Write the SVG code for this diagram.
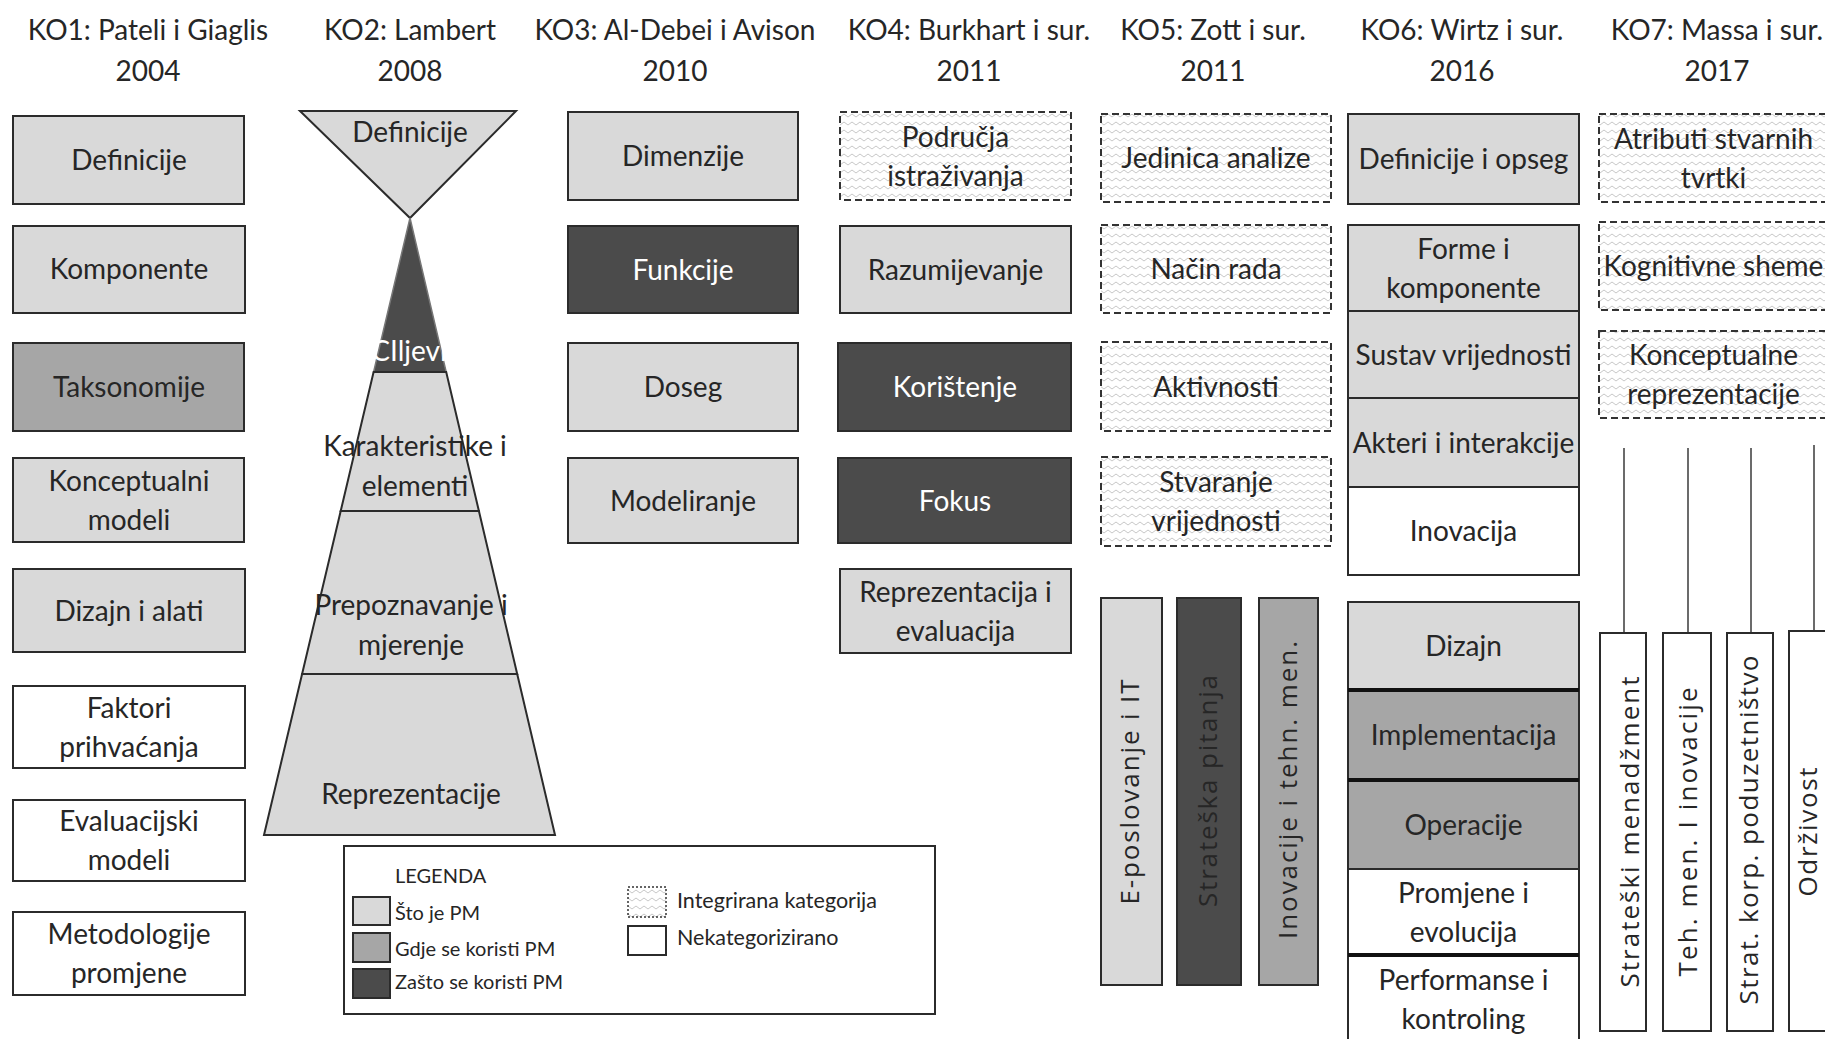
<svg xmlns="http://www.w3.org/2000/svg" width="1825" height="1039" viewBox="0 0 1825 1039">
<style>
.t{font-family:Lato,"Liberation Sans",sans-serif;font-size:28px;fill:#262626;text-anchor:middle}
.w{fill:#ffffff}
.v{font-family:"Open Sans","Liberation Sans",sans-serif;font-size:26px;fill:#262626;text-anchor:middle}
.lg{font-family:Lato,"Liberation Sans",sans-serif;font-size:20px;fill:#262626;text-anchor:start}
.lg2{font-size:21.5px}
.b{stroke:#2b2b2b;stroke-width:2}
.lt{fill:#d9d9d9}
.md{fill:#a6a6a6}
.dk{fill:#4b4b4b}
.wh{fill:#ffffff}
.ig{fill:url(#zz);stroke:#333333;stroke-width:2;stroke-dasharray:7 4}
.thick{stroke:#111111;stroke-width:4}
.conn{stroke:#6b6b6b;stroke-width:2;fill:none}
</style>
<defs>
<pattern id="zz" width="8" height="8" patternUnits="userSpaceOnUse">
<rect width="8" height="8" fill="#ffffff"/>
<polyline points="0,5 4,2 8,5" fill="none" stroke="#c8c8c8" stroke-width="1"/>
</pattern>
</defs>
<rect width="1825" height="1039" fill="#ffffff"/>

<!-- Titles -->
<g id="titles">
<text class="t" x="148" y="40">KO1: Pateli i Giaglis</text><text class="t" x="148" y="81">2004</text>
<text class="t" x="410" y="40">KO2: Lambert</text><text class="t" x="410" y="81">2008</text>
<text class="t" x="675" y="40">KO3: Al-Debei i Avison</text><text class="t" x="675" y="81">2010</text>
<text class="t" x="969" y="40">KO4: Burkhart i sur.</text><text class="t" x="969" y="81">2011</text>
<text class="t" x="1213" y="40">KO5: Zott i sur.</text><text class="t" x="1213" y="81">2011</text>
<text class="t" x="1462" y="40">KO6: Wirtz i sur.</text><text class="t" x="1462" y="81">2016</text>
<text class="t" x="1717" y="40">KO7: Massa i sur.</text><text class="t" x="1717" y="81">2017</text>
</g>

<!-- KO1 -->
<g id="ko1-definicije"><rect class="b lt" x="13" y="116" width="231" height="88"/><text class="t" x="129" y="170">Definicije</text></g>
<g id="ko1-komponente"><rect class="b lt" x="13" y="226" width="232" height="87"/><text class="t" x="129" y="279">Komponente</text></g>
<g id="ko1-taksonomije"><rect class="b md" x="13" y="343" width="231" height="88"/><text class="t" x="129" y="397">Taksonomije</text></g>
<g id="ko1-konceptualni"><rect class="b lt" x="13" y="458" width="231" height="84"/><text class="t" x="129" y="490.5">Konceptualni</text><text class="t" x="129" y="529.5">modeli</text></g>
<g id="ko1-dizajn"><rect class="b lt" x="13" y="569" width="232" height="83"/><text class="t" x="129" y="621">Dizajn i alati</text></g>
<g id="ko1-faktori"><rect class="b wh" x="13" y="686" width="232" height="82"/><text class="t" x="129" y="717.5">Faktori</text><text class="t" x="129" y="756.5">prihvaćanja</text></g>
<g id="ko1-evaluacijski"><rect class="b wh" x="13" y="800" width="232" height="81"/><text class="t" x="129" y="831">Evaluacijski</text><text class="t" x="129" y="870">modeli</text></g>
<g id="ko1-metodologije"><rect class="b wh" x="13" y="912" width="232" height="83"/><text class="t" x="129" y="944">Metodologije</text><text class="t" x="129" y="983">promjene</text></g>

<!-- KO2 pyramid -->
<g id="ko2-definicije"><polygon class="b lt" stroke-width="1.5" points="300,111 516,111 410,218"/><text class="t" x="410" y="142">Definicije</text></g>
<g id="ko2-ciljevi"><polygon class="dk" stroke="#777" stroke-width="1.5" points="410,218 373.6,372 446.2,372"/><text class="t w" x="409" y="361">CIljevi</text></g>
<g id="ko2-karakteristike"><polygon class="b lt" stroke-width="1.5" points="373.6,372 446.2,372 478.9,511 340.7,511"/><text class="t" x="415" y="456">Karakteristike i</text><text class="t" x="415" y="496">elementi</text></g>
<g id="ko2-prepoznavanje"><polygon class="b lt" stroke-width="1.5" points="340.7,511 478.9,511 517.2,674 302.1,674"/><text class="t" x="411" y="615">Prepoznavanje i</text><text class="t" x="411" y="655">mjerenje</text></g>
<g id="ko2-reprezentacije"><polygon class="b lt" stroke-width="1.5" points="302.1,674 517.2,674 555,835 264,835"/><text class="t" x="411" y="804">Reprezentacije</text></g>

<!-- KO3 -->
<g id="ko3-dimenzije"><rect class="b lt" x="568" y="112" width="230" height="88"/><text class="t" x="683" y="166">Dimenzije</text></g>
<g id="ko3-funkcije"><rect class="b dk" x="568" y="226" width="230" height="87"/><text class="t w" x="683" y="279.5">Funkcije</text></g>
<g id="ko3-doseg"><rect class="b lt" x="568" y="343" width="230" height="88"/><text class="t" x="683" y="397">Doseg</text></g>
<g id="ko3-modeliranje"><rect class="b lt" x="568" y="458" width="230" height="85"/><text class="t" x="683" y="510.5">Modeliranje</text></g>

<!-- KO4 -->
<g id="ko4-podrucja"><rect class="ig" x="840" y="112" width="231" height="88"/><text class="t" x="955.5" y="146.5">Područja</text><text class="t" x="955.5" y="185.5">istraživanja</text></g>
<g id="ko4-razumijevanje"><rect class="b lt" x="840" y="226" width="231" height="87"/><text class="t" x="955.5" y="279.5">Razumijevanje</text></g>
<g id="ko4-koristenje"><rect class="b dk" x="838" y="343" width="233" height="88"/><text class="t w" x="955" y="397">Korištenje</text></g>
<g id="ko4-fokus"><rect class="b dk" x="838" y="458" width="233" height="85"/><text class="t w" x="955" y="510.5">Fokus</text></g>
<g id="ko4-reprezentacija"><rect class="b lt" x="840" y="569" width="231" height="84"/><text class="t" x="955.5" y="601.5">Reprezentacija i</text><text class="t" x="955.5" y="640.5">evaluacija</text></g>

<!-- KO5 -->
<g id="ko5-jedinica"><rect class="ig" x="1101" y="114" width="230" height="88"/><text class="t" x="1216" y="168">Jedinica analize</text></g>
<g id="ko5-nacin"><rect class="ig" x="1101" y="225" width="230" height="88"/><text class="t" x="1216" y="279">Način rada</text></g>
<g id="ko5-aktivnosti"><rect class="ig" x="1101" y="342" width="230" height="89"/><text class="t" x="1216" y="396.5">Aktivnosti</text></g>
<g id="ko5-stvaranje"><rect class="ig" x="1101" y="457" width="230" height="89"/><text class="t" x="1216" y="492">Stvaranje</text><text class="t" x="1216" y="531">vrijednosti</text></g>
<g id="ko5-eposlovanje"><rect class="b lt" x="1101" y="598" width="61" height="387"/><text class="v" transform="translate(1139,792) rotate(-90)" textLength="225">E-poslovanje i IT</text></g>
<g id="ko5-strateska"><rect class="b dk" x="1177" y="598" width="64" height="387"/><text class="v w" transform="translate(1217,791) rotate(-90)" textLength="232">Strateška pitanja</text></g>
<g id="ko5-inovacije"><rect class="b md" x="1259" y="598" width="59" height="387"/><text class="v" transform="translate(1297,790) rotate(-90)" textLength="298">Inovacije i tehn. men.</text></g>

<!-- KO6 -->
<g id="ko6-definicije"><rect class="b lt" x="1348" y="114" width="231" height="90"/><text class="t" x="1463.5" y="169">Definicije i opseg</text></g>
<g id="ko6-forme"><rect class="b lt" x="1348" y="225" width="231" height="86"/><text class="t" x="1463.5" y="258.5">Forme i</text><text class="t" x="1463.5" y="297.5">komponente</text></g>
<g id="ko6-sustav"><rect class="b lt" x="1348" y="311" width="231" height="87"/><text class="t" x="1463.5" y="364.5">Sustav vrijednosti</text></g>
<g id="ko6-akteri"><rect class="b lt" x="1348" y="398" width="231" height="89"/><text class="t" x="1463.5" y="452.5">Akteri i interakcije</text></g>
<g id="ko6-inovacija"><rect class="b wh" x="1348" y="487" width="231" height="88"/><text class="t" x="1463.5" y="541">Inovacija</text></g>
<g id="ko6-dizajn"><rect class="b lt" x="1348" y="602" width="231" height="88"/><text class="t" x="1463.5" y="656">Dizajn</text></g>
<g id="ko6-implementacija"><rect class="b md" x="1348" y="690" width="231" height="90"/><text class="t" x="1463.5" y="745">Implementacija</text></g>
<g id="ko6-operacije"><rect class="b md" x="1348" y="780" width="231" height="89"/><text class="t" x="1463.5" y="834.5">Operacije</text></g>
<g id="ko6-promjene"><rect class="b wh" x="1348" y="869" width="231" height="86"/><text class="t" x="1463.5" y="902.5">Promjene i</text><text class="t" x="1463.5" y="941.5">evolucija</text></g>
<g id="ko6-performanse"><rect class="b wh" x="1348" y="955" width="231" height="89"/><text class="t" x="1463.5" y="990">Performanse i</text><text class="t" x="1463.5" y="1029">kontroling</text></g>
<g id="ko6-separators"><line class="thick" x1="1348" y1="690" x2="1579" y2="690"/><line class="thick" x1="1348" y1="780" x2="1579" y2="780"/><line class="thick" x1="1348" y1="955" x2="1579" y2="955"/></g>

<!-- KO7 -->
<g id="ko7-atributi"><rect class="ig" x="1599" y="114" width="230" height="88"/><text class="t" x="1713.5" y="148.5">Atributi stvarnih</text><text class="t" x="1713.5" y="187.5">tvrtki</text></g>
<g id="ko7-kognitivne"><rect class="ig" x="1599" y="222" width="230" height="88"/><text class="t" x="1713.5" y="276">Kognitivne sheme</text></g>
<g id="ko7-konceptualne"><rect class="ig" x="1599" y="331" width="230" height="87"/><text class="t" x="1713.5" y="365">Konceptualne</text><text class="t" x="1713.5" y="404">reprezentacije</text></g>

<g id="connectors">
<line class="conn" x1="1624" y1="448" x2="1624" y2="633"/>
<line class="conn" x1="1688" y1="448" x2="1688" y2="633"/>
<line class="conn" x1="1751" y1="448" x2="1751" y2="633"/>
<line class="conn" x1="1814" y1="445" x2="1814" y2="631"/>
</g>

<g id="ko7-strateski"><rect class="b wh" x="1600" y="633" width="46" height="398"/><text class="v" transform="translate(1639,832) rotate(-90)" textLength="311">Strateški menadžment</text></g>
<g id="ko7-teh"><rect class="b wh" x="1663" y="633" width="48" height="398"/><text class="v" transform="translate(1697,832) rotate(-90)" textLength="289">Teh. men. I inovacije</text></g>
<g id="ko7-korp"><rect class="b wh" x="1727" y="633" width="46" height="398"/><text class="v" transform="translate(1758,830) rotate(-90)" textLength="349">Strat. korp. poduzetništvo</text></g>
<g id="ko7-odrzivost"><rect class="b wh" x="1789" y="631" width="48" height="400"/><text class="v" transform="translate(1817,832) rotate(-90)" textLength="129">Održivost</text></g>

<!-- Legend -->
<g id="legend">
<rect x="344" y="846" width="591" height="168" fill="#ffffff" stroke="#2b2b2b" stroke-width="2"/>
<text class="lg" x="395" y="883">LEGENDA</text>
<rect class="b lt" x="353" y="897" width="37" height="28"/><text class="lg" x="395" y="920">Što je PM</text>
<rect class="b md" x="353" y="933" width="37" height="29"/><text class="lg" x="395" y="956">Gdje se koristi PM</text>
<rect class="b dk" x="353" y="969" width="37" height="29"/><text class="lg" x="395" y="989">Zašto se koristi PM</text>
<rect x="628" y="887" width="38" height="30" fill="url(#zz)" stroke="#333333" stroke-width="1.5" stroke-dasharray="2 2"/><text class="lg lg2" x="677" y="908">Integrirana kategorija</text>
<rect class="b wh" x="628" y="926" width="38" height="29"/><text class="lg lg2" x="677" y="945">Nekategorizirano</text>
</g>
</svg>
